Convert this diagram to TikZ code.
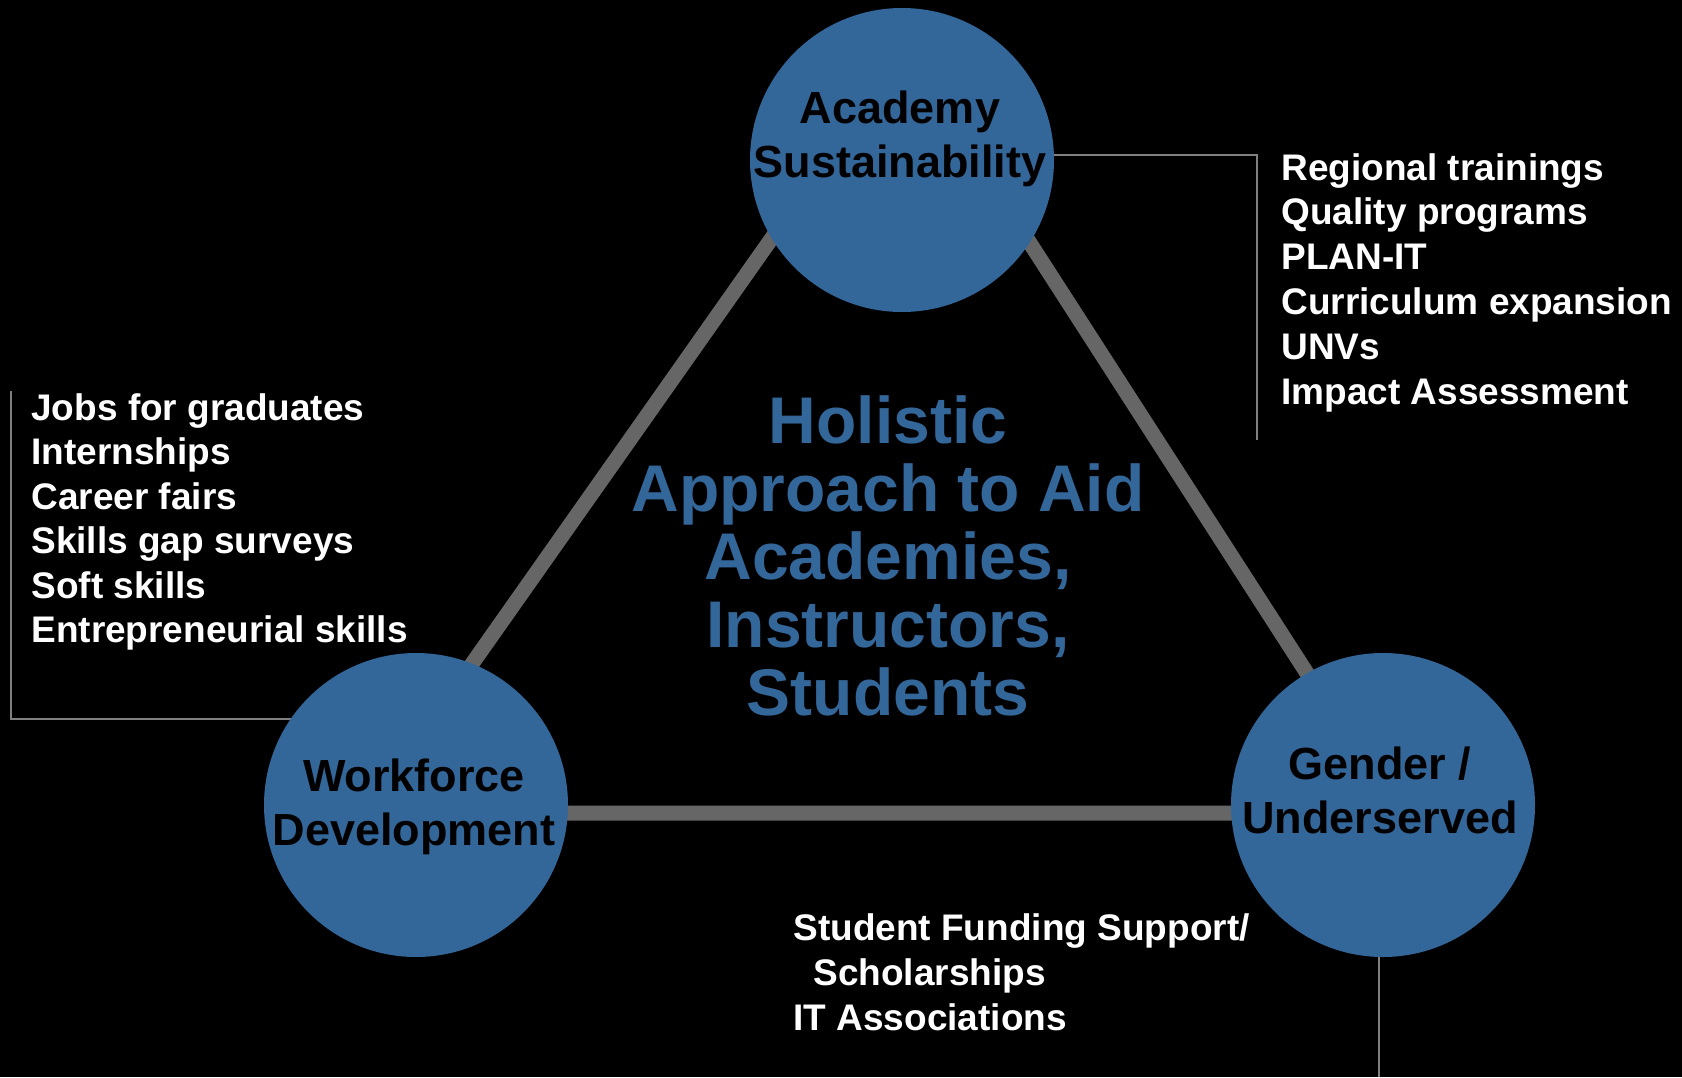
\documentclass[tikz,border=0pt]{standalone}
\usepackage{fontspec}
\setmainfont{Liberation Sans}
\usetikzlibrary{positioning,calc}
\definecolor{hubblue}{RGB}{51,102,153}
\definecolor{edgegray}{RGB}{102,102,102}
\definecolor{leadgray}{RGB}{128,128,128}
\pgfdeclarelayer{back}
\pgfsetlayers{back,main}

\begin{document}
\begin{tikzpicture}[x=0.5pt,y=-0.5pt,
    hub/.style={circle,fill=hubblue,minimum size=152pt,inner sep=0pt},
    hubtext/.style={font=\fontsize{22.5}{27}\selectfont\bfseries,align=center,inner sep=0pt},
    item/.style={font=\fontsize{18.5}{22.2}\selectfont\bfseries,text=white,anchor=base west,inner sep=0pt},
    edge/.style={draw=edgegray,line width=7.5pt,line join=round},
    leader/.style={draw=leadgray,line width=1.2pt}]
  \useasboundingbox (0,0) rectangle (1682,1077);

  % Hubs
  \node[hub] (acad) at (902,160) {};
  \node[hub] (work) at (416,805) {};
  \node[hub] (gend) at (1383,805) {};
  \node[hubtext] (acadtext) at (900,139) {Academy\\Sustainability};
  \node[hubtext] (worktext) at (414,807) {Workforce\\Development};
  \node[hubtext] (gendtext) at (1380,790) {Gender /\\Underserved};

  % Center text
  \node[font=\fontsize{33}{34}\selectfont\bfseries,text=hubblue,align=center,inner sep=0pt]
    (core) at (888,556) {Holistic\\Approach to Aid\\Academies,\\Instructors,\\Students};

  % Lists
  \foreach \txt [count=\i from 0] in {Regional trainings,Quality programs,PLAN-IT,Curriculum expansion,UNVs,Impact Assessment}
    \node[item] (acadlist\i) at (1281,{180+44.9*\i}) {\txt};
  \foreach \txt [count=\i from 0] in {Jobs for graduates,Internships,Career fairs,Skills gap surveys,Soft skills,Entrepreneurial skills}
    \node[item] (worklist\i) at (31,{420+44.5*\i}) {\txt};
  \node[item] (gendlist0) at (793,940) {Student Funding Support/};
  \node[item] (gendlist1) at (813,985) {Scholarships};
  \node[item] (gendlist2) at (793,1030) {IT Associations};

  % Corners and leader ends
  \coordinate (tritop) at (905,49);
  \coordinate (trileft) at (367,813);
  \coordinate (triright) at (1397,813);
  \coordinate (acadturn) at (1257,155);
  \coordinate (acadend) at (1257,440);
  \coordinate (workturn) at (11,719);
  \coordinate (workend) at (11,391);
  \coordinate (gendend) at (1379,1077);

  \begin{pgfonlayer}{back}
    \fill[black] (0,0) rectangle (1682,1077);
    \draw[edge] (tritop) -- (trileft) -- (triright) -- cycle;
    \draw[leader] (acad |- acadturn) -- (acadturn) -- (acadend);
    \draw[leader] (work |- workturn) -- (workturn) -- (workend);
    \draw[leader] (gend -| gendend) -- (gendend);
  \end{pgfonlayer}
\end{tikzpicture}
\end{document}
